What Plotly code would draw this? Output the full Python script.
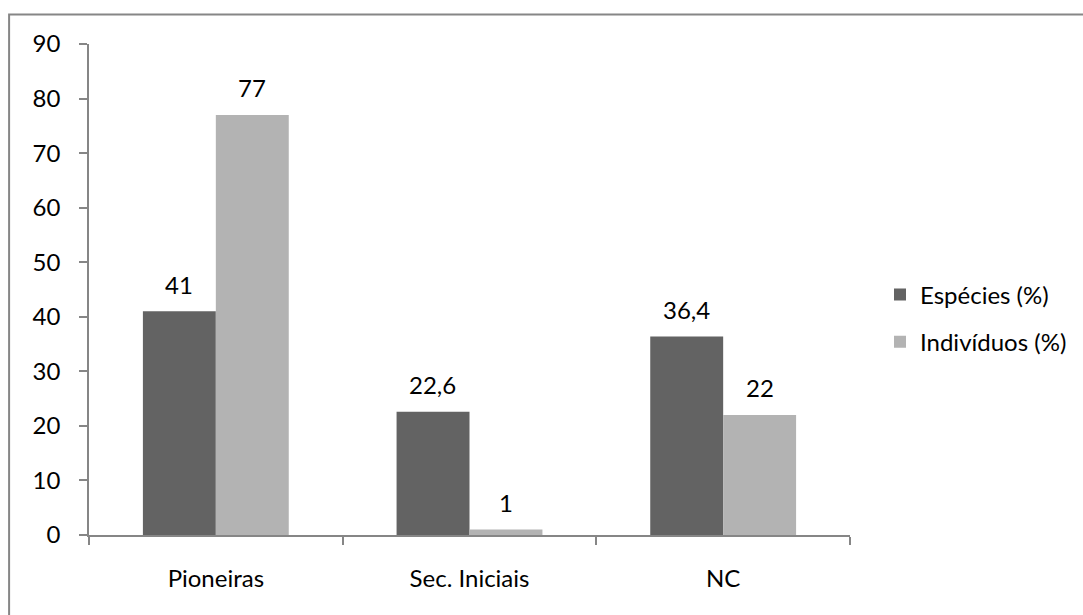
import plotly.graph_objects as go

# Grupos ecológicos e percentuais
categorias = ["Pioneiras", "Sec. Iniciais", "NC"]
especies = [41, 22.6, 36.4]
individuos = [77, 1, 22]
series_nomes = ["Espécies (%)", "Indivíduos (%)"]
y_ticks = [0, 10, 20, 30, 40, 50, 60, 70, 80, 90]

COR_ESCURA = "#636363"
COR_CLARA = "#b3b3b3"
COR_EIXO = "#868686"
FONTE = "Lato, Calibri, sans-serif"
TAM = 24

W, H = 1083, 615
ML, MR, MT, MB = 89, 232, 44, 80
plot_w = W - ML - MR
plot_h = H - MT - MB
BARGAP = 0.425


def fmt(v):
    return (f"{v:g}").replace(".", ",")


fig = go.Figure()
fig.add_trace(go.Bar(x=categorias, y=especies, name=series_nomes[0],
                     marker=dict(color=COR_ESCURA, line=dict(width=0)),
                     legendgroup="a"))
fig.add_trace(go.Bar(x=categorias, y=individuos, name=series_nomes[1],
                     marker=dict(color=COR_CLARA, line=dict(width=0)),
                     legendgroup="b"))

# Rótulos de valor acima de cada barra
cat_px = plot_w / len(categorias)
bar_px = (1 - BARGAP) / 2 * cat_px
anots = []
for valores, desloc in ((especies, -bar_px / 2), (individuos, bar_px / 2)):
    for c, v in zip(categorias, valores):
        anots.append(dict(x=c, y=v, xref="x", yref="y", text=fmt(v),
                          showarrow=False, xshift=desloc, yshift=27,
                          yanchor="middle",
                          font=dict(family=FONTE, size=TAM, color="black")))

# Moldura externa do gráfico
x_esq = (9 - ML) / plot_w
y_topo = (H - MB - 14.5) / plot_h
moldura = dict(type="path", xref="paper", yref="paper",
               path=f"M {x_esq},-0.4 L {x_esq},{y_topo} L 1.5,{y_topo}",
               line=dict(color=COR_EIXO, width=2))

fig.update_layout(
    width=W, height=H,
    margin=dict(l=ML, r=MR, t=MT, b=MB, pad=0),
    paper_bgcolor="white", plot_bgcolor="white",
    barmode="group", bargap=BARGAP, bargroupgap=0,
    font=dict(family=FONTE, size=TAM, color="black"),
    showlegend=True,
    legend=dict(x=(880 - ML) / plot_w, xanchor="left",
                y=(H - MB - 318.5) / plot_h, yanchor="middle",
                font=dict(family=FONTE, size=TAM, color="black"),
                tracegroupgap=13, bgcolor="rgba(0,0,0,0)"),
    annotations=anots,
    shapes=[moldura],
)
fig.update_xaxes(showline=True, linecolor=COR_EIXO, linewidth=1.5,
                 ticks="outside", ticklen=8, tickcolor=COR_EIXO, tickwidth=1.5,
                 tickson="boundaries", showgrid=False, zeroline=False,
                 ticklabelstandoff=21,
                 tickfont=dict(family=FONTE, size=TAM, color="black"))
fig.update_yaxes(range=[0, 90], tickvals=y_ticks, showline=True,
                 linecolor=COR_EIXO, linewidth=1.5, ticks="outside",
                 ticklen=8, tickcolor=COR_EIXO, tickwidth=1.5,
                 showgrid=False, zeroline=False, ticklabelstandoff=14,
                 tickfont=dict(family=FONTE, size=TAM, color="black"))

fig.write_html("out.html")
